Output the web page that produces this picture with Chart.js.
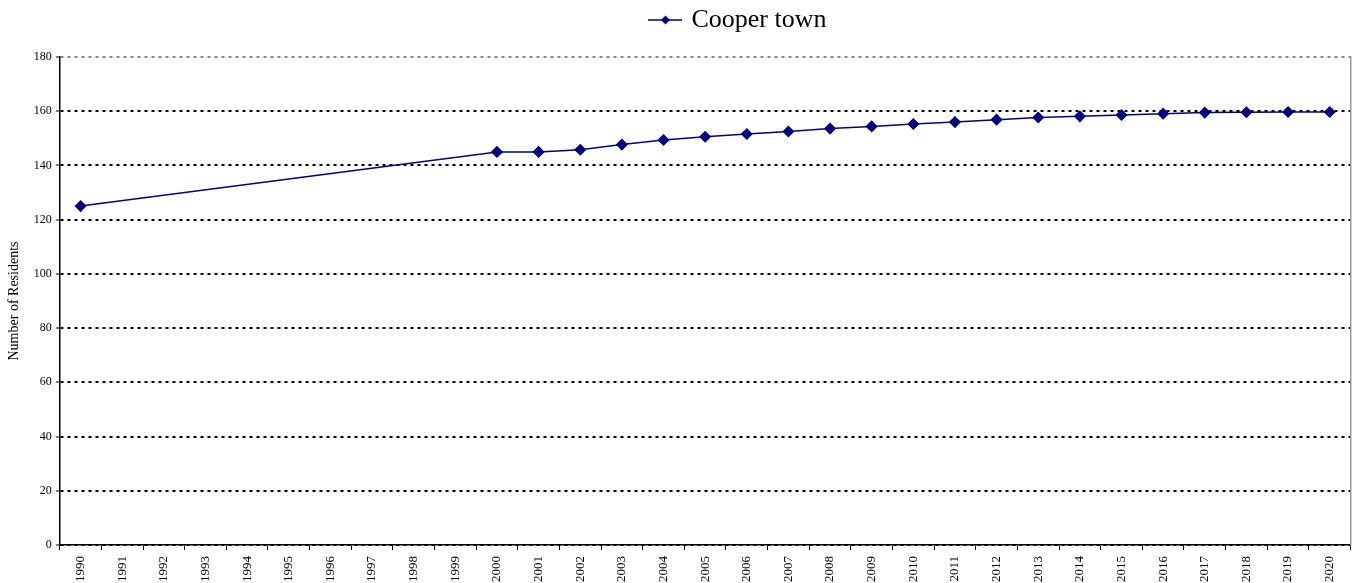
<!DOCTYPE html>
<html>
<head>
<meta charset="utf-8">
<script src="https://cdn.jsdelivr.net/npm/chart.js@4.4.0/dist/chart.umd.min.js"></script>
<style>
  html, body { margin: 0; padding: 0; background: #fff; }
  #wrap { width: 1357px; height: 583px; position: relative; }
</style>
</head>
<body>
<div id="wrap"><canvas id="c"></canvas></div>
<script>
const years = ['1990','1991','1992','1993','1994','1995','1996','1997','1998','1999','2000','2001','2002','2003','2004','2005','2006','2007','2008','2009','2010','2011','2012','2013','2014','2015','2016','2017','2018','2019','2020'];
const residents = [125, null, null, null, null, null, null, null, null, null, 145, 145, 145.8, 147.7, 149.4, 150.6, 151.6, 152.5, 153.6, 154.4, 155.3, 156.0, 156.9, 157.7, 158.1, 158.6, 159.1, 159.5, 159.6, 159.7, 159.7];
const seriesName = 'Cooper town';
const yTitle = 'Number of Residents';

const NAVY = '#000080';
const FONT = "'Liberation Serif', 'Times New Roman', serif";

// legend marker: line with diamond
const mk = document.createElement('canvas');
mk.width = 34; mk.height = 14;
(function(){
  const g = mk.getContext('2d');
  g.strokeStyle = NAVY; g.lineWidth = 1.5;
  g.beginPath(); g.moveTo(0, 7); g.lineTo(34, 7); g.stroke();
  g.fillStyle = NAVY;
  g.beginPath(); g.moveTo(17, 2.5); g.lineTo(21.5, 7); g.lineTo(17, 11.5); g.lineTo(12.5, 7); g.closePath(); g.fill();
})();

const legendTweak = {
  id: 'legendTweak',
  beforeLayout(chart) {
    const lg = chart.legend;
    if (lg && !lg._patched) {
      const origFit = lg.fit;
      lg.fit = function() { origFit.call(this); this.height += 14; };
      lg._patched = true;
    }
  },
  afterLayout(chart) {
    if (chart.legend) { chart.legend.left += 60; chart.legend.right += 60; }
  }
};

new Chart(document.getElementById('c'), {
  type: 'line',
  data: {
    labels: years,
    datasets: [{
      label: seriesName,
      data: residents,
      borderColor: NAVY,
      backgroundColor: NAVY,
      borderWidth: 1.5,
      pointStyle: 'rectRot',
      pointRadius: 5,
      pointHoverRadius: 5,
      pointBackgroundColor: NAVY,
      pointBorderColor: NAVY,
      spanGaps: true,
      tension: 0
    }]
  },
  options: {
    responsive: true,
    maintainAspectRatio: false,
    animation: false,
    layout: { padding: { left: 4, right: 2, top: 0, bottom: -5 } },
    plugins: {
      tooltip: { enabled: false },
      legend: {
        position: 'top',
        labels: {
          usePointStyle: true,
          pointStyle: mk,
          font: { family: FONT, size: 26 },
          color: '#000',
          padding: 7
        }
      }
    },
    scales: {
      x: {
        offset: true,
        grid: {
          offset: true,
          drawOnChartArea: false,
          drawTicks: true,
          tickLength: 5,
          color: '#000'
        },
        border: { color: '#000', width: 1.5 },
        ticks: {
          minRotation: 90,
          maxRotation: 90,
          autoSkip: false,
          font: { family: FONT, size: 13 },
          color: '#000',
          padding: 6
        }
      },
      y: {
        min: 0,
        max: 180,
        ticks: {
          stepSize: 20,
          font: { family: FONT, size: 12 },
          color: '#000',
          padding: 4
        },
        grid: {
          color: (ctx) => (ctx.tick && ctx.tick.value === 180) ? '#888' : '#000',
          lineWidth: 2,
          tickLength: 4,
          tickColor: '#000',
          tickWidth: 1
        },
        border: { color: '#000', width: 1.5, dash: [3, 4] },
        title: {
          display: true,
          text: yTitle,
          font: { family: FONT, size: 14 },
          color: '#000',
          padding: { top: 2, bottom: 7 }
        }
      },
      y2: {
        position: 'right',
        min: 0, max: 180,
        ticks: { display: false },
        grid: { drawOnChartArea: false, drawTicks: false },
        border: { color: '#999', width: 1.5 }
      }
    }
  },
  plugins: [legendTweak]
});
</script>
</body>
</html>
